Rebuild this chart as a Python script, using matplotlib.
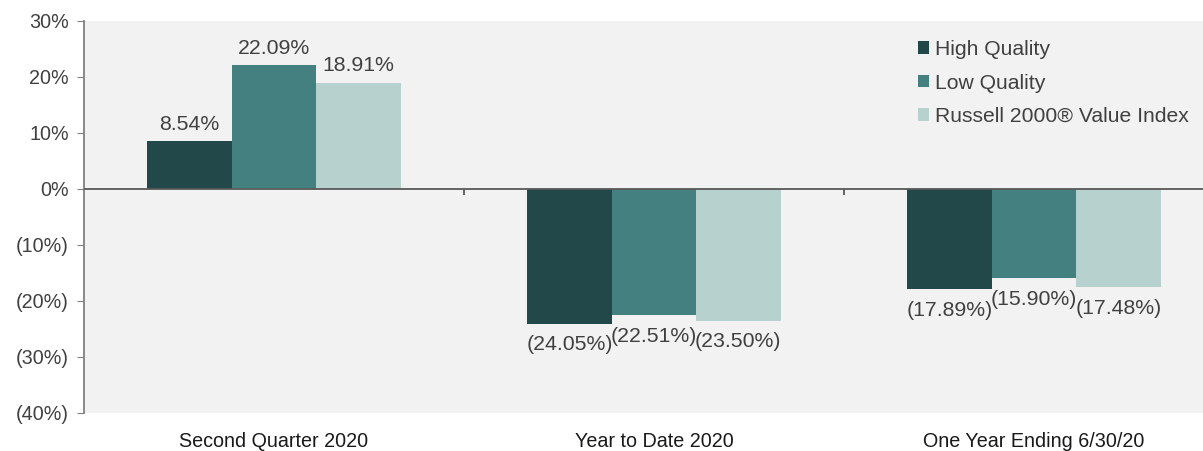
import numpy as np
import matplotlib.pyplot as plt

plt.rcParams['font.family'] = ['Liberation Sans', 'DejaVu Sans']

categories = ['Second Quarter 2020', 'Year to Date 2020', 'One Year Ending 6/30/20']
series = ['High Quality', 'Low Quality', 'Russell 2000® Value Index']
high_quality = [8.54, -24.05, -17.89]
low_quality = [22.09, -22.51, -15.90]
russell_value = [18.91, -23.50, -17.48]
yticks = [30, 20, 10, 0, -10, -20, -30, -40]

colors = ['#22484a', '#458080', '#b6d1ce']
text_color = '#404040'


def fmt(v):
    return f'{v:.2f}%' if v >= 0 else f'({abs(v):.2f}%)'


fig = plt.figure(figsize=(12.03, 4.51), dpi=100)
ax = fig.add_axes([84 / 1203, 38 / 451, 1 - 84 / 1203, 392 / 451])
ax.set_facecolor('#f2f2f2')

x = np.arange(len(categories))
w = 0.222
for i, (name, vals) in enumerate(zip(series, [high_quality, low_quality, russell_value])):
    bars = ax.bar(x + (i - 1) * w, vals, w, color=colors[i], label=name, zorder=2)
    for b, v in zip(bars, vals):
        cx = b.get_x() + b.get_width() / 2
        if v >= 0:
            ax.annotate(fmt(v), (cx, v), xytext=(0, 5.5), textcoords='offset points',
                        ha='center', va='bottom', fontsize=15.3, color=text_color)
        else:
            ax.annotate(fmt(v), (cx, v), xytext=(0, -8.5), textcoords='offset points',
                        ha='center', va='top', fontsize=15.3, color=text_color)

ax.set_ylim(-40, 30)
ax.set_xlim(-0.5, 2.5 - 21 / 380)
ax.set_yticks(yticks)
ax.set_yticklabels([f'{t}%' if t >= 0 else f'({abs(t)}%)' for t in yticks])
ax.tick_params(axis='y', length=5, color='#808080', labelsize=14.2, labelcolor=text_color, pad=6)

ax.axhline(0, color='#595959', lw=1.3, zorder=3)
for s in ['top', 'right', 'bottom']:
    ax.spines[s].set_visible(False)
ax.spines['left'].set_color('#808080')
ax.spines['left'].set_linewidth(1.3)

# category separators on the zero line, labels along the bottom
ax.set_xticks([])
ax.vlines([0.5, 1.5], -1.0, 0, color='#595959', lw=1.3, zorder=3)
for xi, c in zip(x, categories):
    ax.annotate(c, (xi, -40), xytext=(0, -14), textcoords='offset points',
                ha='center', va='top', fontsize=14.2, color='#1a1a1a',
                annotation_clip=False)

leg = ax.legend(loc='upper right', bbox_to_anchor=(1.004, 1.0), frameon=False,
                fontsize=15.2, handlelength=0.55, handleheight=0.55,
                handletextpad=0.25, labelspacing=0.69, borderaxespad=0.5)
for t in leg.get_texts():
    t.set_color(text_color)

fig.savefig('out.png', dpi=100, facecolor='white')
